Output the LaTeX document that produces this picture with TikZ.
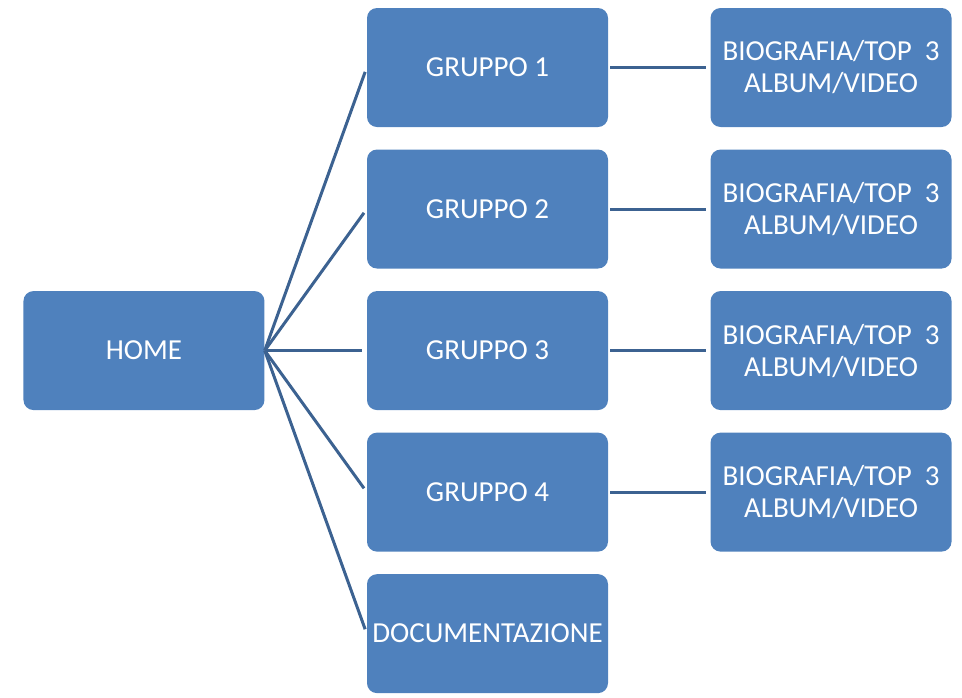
\documentclass[tikz,border=0pt]{standalone}
\usepackage{fontspec}
\setmainfont{Carlito}
\usetikzlibrary{positioning}

\tikzset{
    box/.style={rectangle, rounded corners=7.5pt, fill=boxblue, text=white,
        minimum width=180.75pt, minimum height=89.25pt, inner sep=0pt,
        align=center, font=\fontsize{21.75}{24}\selectfont},
    link/.style={draw=linkblue, line width=2.25pt}
}

\begin{document}
\begin{tikzpicture}[x=0.75pt, y=-0.75pt]
    \definecolor{boxblue}{RGB}{79, 129, 189}
    \definecolor{linkblue}{RGB}{60, 98, 145}
    
    \useasboundingbox (0,0) rectangle (962,697);
    
    % Groups column
    \node[box] (g1) at (487.5,67.5) {GRUPPO 1};
    \node[box, below=16.5pt of g1] (g2) {GRUPPO 2};
    \node[box, below=16.5pt of g2] (g3) {GRUPPO 3};
    \node[box, below=16.5pt of g3] (g4) {GRUPPO 4};
    \node[box, below=16.5pt of g4] (doc) {DOCUMENTAZIONE};
    
    % Root
    \node[box, left=76.5pt of g3] (home) {HOME};
    
    % Detail column
    \foreach \i in {1,...,4}
        \node[box, right=76.5pt of g\i] (b\i) {BIOGRAFIA/TOP\ \ 3\\ALBUM/VIDEO};
    
    % Connectors
    \foreach \n in {g1,g2,g3,g4,doc}
        \draw[link, shorten >=3.5pt] (home.east) -- (\n.west);
    \foreach \i in {1,...,4}
        \draw[link, shorten <=1.5pt, shorten >=3pt] (g\i.east) -- (b\i.west);
\end{tikzpicture}
\end{document}
